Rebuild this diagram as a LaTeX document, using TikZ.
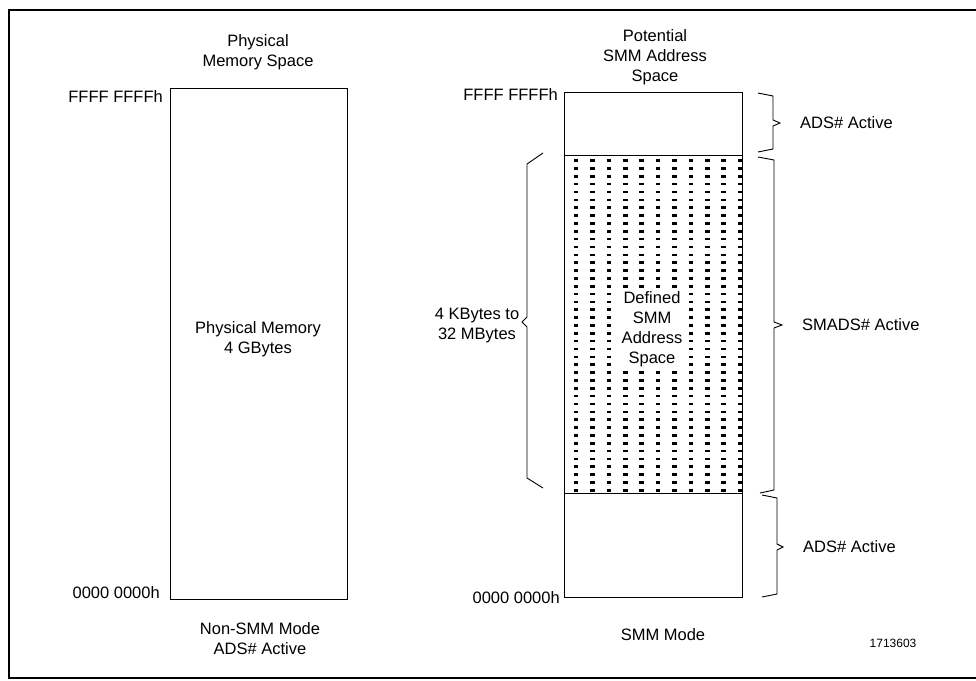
\documentclass[tikz,border=0pt]{standalone}
\usepackage{fontspec}
\setmainfont{Liberation Sans}
\begin{document}
\begin{tikzpicture}[x=1pt,y=-1pt,
  txt/.style={font=\fontsize{16.5}{20}\selectfont, inner sep=0pt, align=center},
  memblock/.style={draw, line width=1pt, inner sep=0pt},
  bracepath/.style={line width=0.9pt, line join=miter},
  dotmark/.style={fill=black}]
\useasboundingbox (0,0) rectangle (976,680);
% frame
\draw[line width=1.3pt] (976,10) -- (9,10) -- (9,678) -- (976,678);

% left memory block
\node[memblock, minimum width=177pt, minimum height=511pt] (pm) at (258.5,343.5) {};
\node[txt] (pmtitle) at (258,52) {Physical\\Memory Space};
\node[txt] (pmtext) at (258,339.5) {Physical Memory\\4 GBytes};
\node[txt, anchor=east] (ltop) at (163,97) {FFFF FFFFh};
\node[txt, anchor=east] (lbot) at (160,593) {0000 0000h};
\node[txt] (lmode) at (260,639) {Non-SMM Mode\\ADS\# Active};

% right memory block
\node[memblock, minimum width=178pt, minimum height=505pt] (smm) at (653,344.5) {};
\coordinate (dtl) at (564,155);
\coordinate (dtr) at (742,155);
\coordinate (dbl) at (564,493);
\coordinate (dbr) at (742,493);
\foreach \r in {0,...,42}{
  \foreach \k in {0,...,10}{
    \fill[dotmark] ({573.8+16.4*\k},{159.3+7.85*\r}) rectangle ++(4.6,2.6);
  }
}
\draw[line width=1pt] (dtl) -- (dtr);
\draw[line width=1pt] (dbl) -- (dbr);
\draw[line width=1pt] (smm.north east) -- (smm.south east);
\node[txt, fill=white, inner sep=2pt] (deftext) at (652,329) {Defined\\SMM\\Address\\Space};
\node[txt] (smmtitle) at (655,57) {Potential\\SMM Address\\Space};
\node[txt, anchor=east] (rtop) at (558,95) {FFFF FFFFh};
\node[txt, anchor=east] (rbot) at (560,598) {0000 0000h};
\node[txt] (rmode) at (663,635) {SMM Mode};
\node[font=\fontsize{12}{14}\selectfont, inner sep=0pt] (figno) at (893,643) {1713603};

% left brace
\coordinate (lb1) at (543,153);
\coordinate (lb2) at (543,488);
\draw[bracepath] (lb1) -- (527,164) -- (527,317) -- (522,322) -- (527,327) -- (527,478) -- (lb2);
\node[txt] (lbtext) at (477,326) {4 KBytes to\\32 MBytes};

% right braces
\coordinate (rb1a) at (758,93);
\coordinate (rb1b) at (758,152);
\draw[bracepath] (rb1a) -- (773,96) -- (773,120) -- (780,123) -- (773,126) -- (773,149) -- (rb1b);
\node[txt, anchor=west] (ads1) at (800,123) {ADS\# Active};

\coordinate (rb2a) at (758,157);
\coordinate (rb2b) at (760,493);
\draw[bracepath] (rb2a) -- (774,160) -- (774,322) -- (782,325) -- (774,328) -- (774,490) -- (rb2b);
\node[txt, anchor=west] (smads) at (802,325) {SMADS\# Active};

\coordinate (rb3a) at (762,495);
\coordinate (rb3b) at (762,597);
\draw[bracepath] (rb3a) -- (777,498) -- (777,544) -- (783,547) -- (777,550) -- (777,594) -- (rb3b);
\node[txt, anchor=west] (ads2) at (803,547) {ADS\# Active};
\end{tikzpicture}
\end{document}
